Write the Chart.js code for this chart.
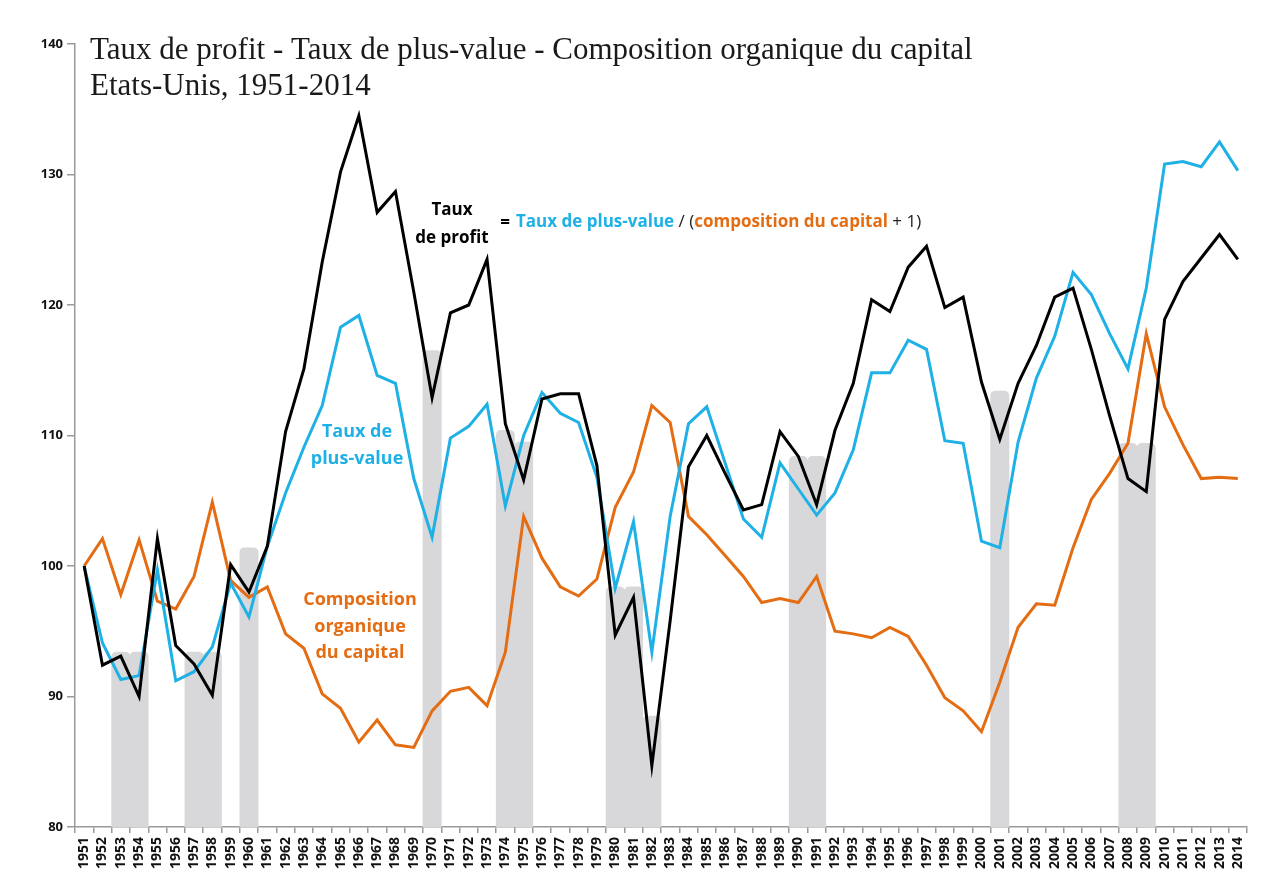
<!DOCTYPE html>
<html>
<head>
<meta charset="utf-8">
<title>Taux de profit - Etats-Unis 1951-2014</title>
<script src="https://cdn.jsdelivr.net/npm/chart.js@4.4.1/dist/chart.umd.min.js"></script>
<style>
  html, body { margin: 0; padding: 0; background: #fff; }
  canvas { display: block; }
</style>
</head>
<body>
<canvas id="profitChart" width="1266" height="891"></canvas>
<script>
(function () {
  "use strict";

  // years on the x axis
  const years = [
    "1951", "1952", "1953", "1954", "1955", "1956", "1957", "1958", "1959", "1960",
    "1961", "1962", "1963", "1964", "1965", "1966", "1967", "1968", "1969", "1970",
    "1971", "1972", "1973", "1974", "1975", "1976", "1977", "1978", "1979", "1980",
    "1981", "1982", "1983", "1984", "1985", "1986", "1987", "1988", "1989", "1990",
    "1991", "1992", "1993", "1994", "1995", "1996", "1997", "1998", "1999", "2000",
    "2001", "2002", "2003", "2004", "2005", "2006", "2007", "2008", "2009", "2010",
    "2011", "2012", "2013", "2014"
  ];

  // index 1951 = 100
  const tauxProfit = [
    100.0, 92.4, 93.1, 90.0, 102.1, 93.9, 92.5, 90.1, 100.1, 98.0,
    101.5, 110.3, 115.1, 123.3, 130.2, 134.5, 127.1, 128.7, 121.0, 112.9,
    119.4, 120.0, 123.5, 110.9, 106.6, 112.8, 113.2, 113.2, 107.7, 94.7,
    97.6, 84.7, 95.8, 107.6, 110.0, 107.1, 104.3, 104.7, 110.3, 108.4,
    104.7, 110.4, 114.0, 120.4, 119.5, 122.9, 124.5, 119.8, 120.6, 114.1,
    109.7, 114.0, 116.9, 120.6, 121.3, 116.6, 111.5, 106.7, 105.7, 118.9,
    121.8, 123.6, 125.4, 123.5
  ];

  const tauxPlusValue = [
    100.0, 94.1, 91.3, 91.6, 99.7, 91.2, 91.9, 93.8, 98.7, 96.1,
    101.5, 105.6, 109.1, 112.3, 118.3, 119.2, 114.6, 114.0, 106.7, 102.2,
    109.8, 110.7, 112.4, 104.6, 110.0, 113.3, 111.7, 111.0, 106.8, 98.3,
    103.4, 93.4, 103.8, 110.9, 112.2, 107.9, 103.6, 102.2, 107.9, 105.9,
    103.9, 105.6, 108.9, 114.8, 114.8, 117.3, 116.6, 109.6, 109.4, 101.9,
    101.4, 109.5, 114.4, 117.6, 122.5, 120.8, 117.8, 115.1, 121.3, 130.8,
    131.0, 130.6, 132.5, 130.3
  ];

  const compoOrganique = [
    100.0, 102.1, 97.8, 102.0, 97.3, 96.7, 99.2, 104.9, 98.9, 97.6,
    98.4, 94.8, 93.7, 90.2, 89.1, 86.5, 88.2, 86.3, 86.1, 88.9,
    90.4, 90.7, 89.3, 93.4, 103.8, 100.6, 98.4, 97.7, 99.0, 104.5,
    107.2, 112.3, 111.0, 103.8, 102.4, 100.8, 99.2, 97.2, 97.5, 97.2,
    99.2, 95.0, 94.8, 94.5, 95.3, 94.6, 92.4, 89.9, 88.9, 87.3,
    91.1, 95.3, 97.1, 97.0, 101.4, 105.1, 107.1, 109.4, 117.8, 112.2,
    109.3, 106.7, 106.8, 106.7
  ];

  // recession shading (grey columns)
  const recessionYears = ["1953", "1954", "1957", "1958", "1960", "1970", "1974", "1975",
    "1980", "1981", "1982", "1990", "1991", "2001", "2008", "2009"];
  const recessionTops = [93.4, 93.4, 93.4, 93.4, 101.4, 116.5, 110.4, 109.5,
    98.4, 98.4, 88.5, 108.4, 108.4, 113.4, 109.4, 109.4];

  const yTicks = [80, 90, 100, 110, 120, 130, 140];

  const BLACK = "#000000";
  const BLUE = "#1fb1e6";
  const ORANGE = "#e46d13";
  const AXIS = "#9a9a9a";

  const recessionData = years.map(function (y) {
    const i = recessionYears.indexOf(y);
    return i === -1 ? null : [80, recessionTops[i]];
  });

  // title + in-chart labels
  const textPlugin = {
    id: "texts",
    afterDraw(chart) {
      const c = chart.ctx;
      c.save();
      c.textBaseline = "alphabetic";
      c.textAlign = "left";
      c.fillStyle = "#1a1a1a";
      c.font = "31px 'Liberation Serif', 'Times New Roman', serif";
      c.fillText("Taux de profit - Taux de plus-value - Composition organique du capital", 90, 59);
      c.fillText("Etats-Unis, 1951-2014", 90, 95);

      // formula
      c.textBaseline = "middle";
      c.textAlign = "center";
      c.font = "bold 17px 'Open Sans', sans-serif";
      c.fillStyle = BLACK;
      c.fillText("Taux", 452, 210);
      c.fillText("de profit", 452, 238);
      c.fillText("=", 505, 223);

      const parts = [
        ["Taux de plus-value", BLUE, "bold"],
        [" / (", "#222", "normal"],
        ["composition du capital", ORANGE, "bold"],
        [" + 1)", "#222", "normal"]
      ];
      let x = 516;
      c.textAlign = "left";
      parts.forEach(function (p) {
        c.font = p[2] + " 17px 'Open Sans', sans-serif";
        c.fillStyle = p[1];
        c.fillText(p[0], x, 222);
        x += c.measureText(p[0]).width;
      });

      c.textAlign = "center";
      c.font = "bold 18px 'Open Sans', sans-serif";
      c.fillStyle = BLUE;
      c.fillText("Taux de", 357, 432);
      c.fillText("plus-value", 357, 459);

      c.fillStyle = ORANGE;
      c.fillText("Composition", 360, 600);
      c.fillText("organique", 360, 627);
      c.fillText("du capital", 360, 653);
      c.restore();
    }
  };

  function lineSet(label, data, color, order) {
    return {
      type: "line",
      label: label,
      data: data,
      borderColor: color,
      backgroundColor: color,
      borderWidth: 3,
      pointRadius: 0,
      tension: 0,
      fill: false,
      order: order
    };
  }

  new Chart(document.getElementById("profitChart"), {
    type: "line",
    data: {
      labels: years,
      datasets: [
        {
          type: "bar",
          label: "Récessions",
          data: recessionData,
          backgroundColor: "#d8d7da",
          barPercentage: 1,
          categoryPercentage: 1,
          borderRadius: { topLeft: 5, topRight: 5, bottomLeft: 0, bottomRight: 0 },
          borderSkipped: false,
          order: 10
        },
        lineSet("Taux de profit", tauxProfit, BLACK, 1),
        lineSet("Taux de plus-value", tauxPlusValue, BLUE, 2),
        lineSet("Composition organique du capital", compoOrganique, ORANGE, 3)
      ]
    },
    options: {
      responsive: false,
      animation: false,
      layout: { padding: { top: 44, right: 19, left: 0, bottom: 0 } },
      plugins: {
        legend: { display: false },
        tooltip: { enabled: false },
        title: { display: false }
      },
      scales: {
        x: {
          offset: true,
          grid: { offset: true, drawOnChartArea: false, tickLength: 6, color: AXIS, lineWidth: 1.5 },
          border: { color: AXIS, width: 1.5 },
          ticks: {
            autoSkip: false,
            maxRotation: 90,
            minRotation: 90,
            padding: 4,
            color: "#111",
            font: { family: "'Open Sans', sans-serif", weight: "bold", size: 14 }
          },
          afterFit(s) { s.height = 64; }
        },
        y: {
          min: 80,
          max: 140,
          afterBuildTicks(s) { s.ticks = yTicks.map(function (v) { return { value: v }; }); },
          grid: { drawOnChartArea: false, tickLength: 8, color: AXIS, lineWidth: 1.5 },
          border: { color: AXIS, width: 1.5 },
          ticks: { padding: 4, color: "#111", font: { family: "'Open Sans', sans-serif", weight: "bold", size: 13 } },
          afterFit(s) { s.width = 75; }
        }
      }
    },
    plugins: [textPlugin]
  });
})();
</script>
</body>
</html>
